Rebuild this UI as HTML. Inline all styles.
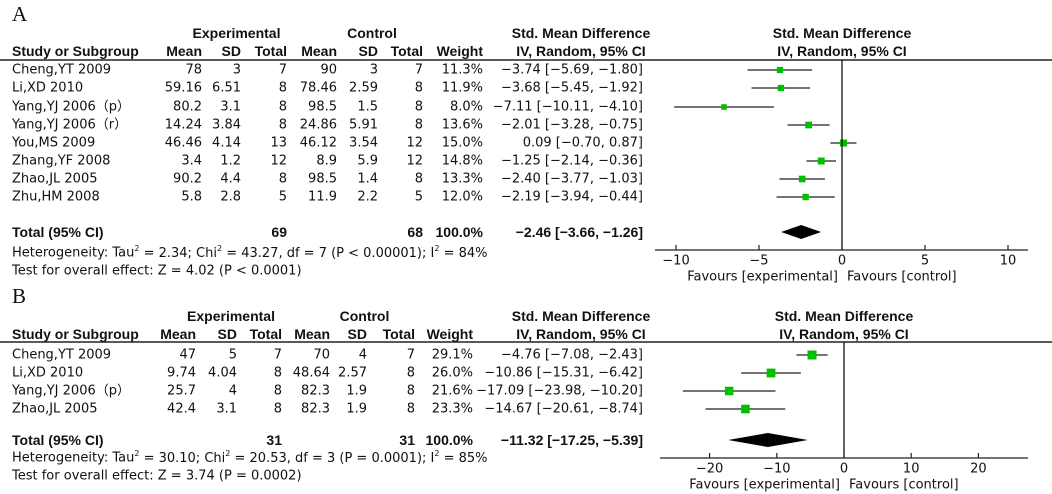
<!DOCTYPE html>
<html><head><meta charset="utf-8"><style>
body{margin:0;background:#fff;}
svg{display:block;font-family:"DejaVu Sans","Liberation Sans",sans-serif;font-size:13px;fill:#111}
.b{font-weight:bold;font-family:"Liberation Sans",sans-serif;font-size:14px}
</style></head><body>
<svg id="s" width="1052" height="494" xmlns="http://www.w3.org/2000/svg"></svg>
<script>
// Panel A data
const aStudies=["Cheng,YT 2009","Li,XD 2010","Yang,YJ 2006\uFF08p\uFF09","Yang,YJ 2006\uFF08r\uFF09","You,MS 2009","Zhang,YF 2008","Zhao,JL 2005","Zhu,HM 2008"];
const aExpMean=["78","59.16","80.2","14.24","46.46","3.4","90.2","5.8"];
const aExpSD=["3","6.51","3.1","3.84","4.14","1.2","4.4","2.8"];
const aExpN=["7","8","8","8","13","12","8","5"];
const aCtlMean=["90","78.46","98.5","24.86","46.12","8.9","98.5","11.9"];
const aCtlSD=["3","2.59","1.5","5.91","3.54","5.9","1.4","2.2"];
const aCtlN=["7","8","8","8","12","12","8","5"];
const aWeight=[11.3,11.9,8.0,13.6,15.0,14.8,13.3,12.0];
const aEst=[-3.74,-3.68,-7.11,-2.01,0.09,-1.25,-2.40,-2.19];
const aLo=[-5.69,-5.45,-10.11,-3.28,-0.70,-2.14,-3.77,-3.94];
const aHi=[-1.80,-1.92,-4.10,-0.75,0.87,-0.36,-1.03,-0.44];
const aTotal=[-2.46,-3.66,-1.26];
const aTicks=[-10,-5,0,5,10];
// Panel B data
const bStudies=["Cheng,YT 2009","Li,XD 2010","Yang,YJ 2006\uFF08p\uFF09","Zhao,JL 2005"];
const bExpMean=["47","9.74","25.7","42.4"];
const bExpSD=["5","4.04","4","3.1"];
const bExpN=["7","8","8","8"];
const bCtlMean=["70","48.64","82.3","82.3"];
const bCtlSD=["4","2.57","1.9","1.9"];
const bCtlN=["7","8","8","8"];
const bWeight=[29.1,26.0,21.6,23.3];
const bEst=[-4.76,-10.86,-17.09,-14.67];
const bLo=[-7.08,-15.31,-23.98,-20.61];
const bHi=[-2.43,-6.42,-10.20,-8.74];
const bTotal=[-11.32,-17.25,-5.39];
const bTicks=[-20,-10,0,10,20];

const S=document.getElementById('s');
const NS="http://www.w3.org/2000/svg";
function mk(tag,attrs,parent){const e=document.createElementNS(NS,tag);for(const k in attrs)e.setAttribute(k,attrs[k]);(parent||S).appendChild(e);return e;}
function txt(x,y,s,anchor,cls,name){const t=mk('text',{x:x,y:y,'text-anchor':anchor||'start','dominant-baseline':'central'});if(cls)t.setAttribute('class',cls);t.innerHTML=s;


return t;}
function fmt(v){return (v<0?'\u2212':'')+Math.abs(v).toFixed(2);}
function ci(e,l,h){return fmt(e)+' ['+fmt(l)+', '+fmt(h)+']';}

function panel(P){
  const g=mk('g',{});
  
  
  txt(12,P.labelY,P.label,'start',null,'panel-label').setAttribute('style','font-family:"Liberation Serif",serif;font-size:21px');
  const c=P.cols;
  txt((c[0]+c[2])/2-8,P.h1,'Experimental','middle','b','experimental-header');
  txt((c[3]+c[5])/2-8,P.h1,'Control','middle','b','control-header');
  txt(c[7]-62,P.h1,'Std. Mean Difference','middle','b','effect-header');
  txt(P.zero,P.h1,'Std. Mean Difference','middle','b','plot-header');
  txt(12,P.h2,'Study or Subgroup','start','b','study-header');
  const hd=['Mean','SD','Total','Mean','SD','Total','Weight'];
  hd.forEach((h,i)=>txt(c[i],P.h2,h,'end','b','column-header'));
  txt(c[7]-62,P.h2,'IV, Random, 95% CI','middle','b','effect-subheader');
  txt(P.zero,P.h2,'IV, Random, 95% CI','middle','b','plot-subheader');
  const hl=mk('line',{x1:0,x2:1052,y1:P.line,y2:P.line,stroke:'#222','stroke-width':1.5});
  
  
  const X=v=>P.zero+v*P.scale;
  const maxW=Math.max(...P.w);
  P.studies.forEach((s,i)=>{
    const y=P.rowY[i];
    txt(12,y,s,'start',null,'study-name');
    [P.em,P.es,P.en,P.cm,P.cs,P.cn].forEach((arr,j)=>txt(c[j],y,arr[i],'end',null,'cell'));
    txt(c[6],y,P.w[i].toFixed(1)+'%','end',null,'weight-cell');
    txt(c[7],y,ci(P.est[i],P.lo[i],P.hi[i]),'end',null,'ci-cell');
    const l=mk('line',{x1:X(P.lo[i]),x2:X(P.hi[i]),y1:y,y2:y,stroke:'#222','stroke-width':1.2});
    
    
    const sz=P.sqMin+(P.sqMax-P.sqMin)*(P.w[i]/maxW);
    const r=mk('rect',{x:X(P.est[i])-sz/2,y:y-sz/2,width:sz,height:sz,fill:'#00bf00'});
    
    
  });
  const ty=P.totY;
  txt(12,ty,'Total (95% CI)','start','b','total-label');
  txt(c[2],ty,P.tn[0],'end','b','total-exp');
  txt(c[5],ty,P.tn[1],'end','b','total-ctl');
  txt(c[6],ty,'100.0%','end','b','total-weight');
  txt(c[7],ty,ci(P.tot[0],P.tot[1],P.tot[2]),'end','b','total-ci');
  const d=mk('polygon',{points:`${X(P.tot[1])},${ty} ${X(P.tot[0])},${ty-7} ${X(P.tot[2])},${ty} ${X(P.tot[0])},${ty+7}`,fill:'#000'});
  
  
  txt(12,P.hetY,P.het,'start',null,'heterogeneity-text');
  txt(12,P.hetY+18,P.test,'start',null,'overall-effect-text');
  const zl=mk('line',{x1:X(0),x2:X(0),y1:P.line,y2:P.axisY,stroke:'#111','stroke-width':1.3});
  
  
  const ax=mk('line',{x1:P.axL,x2:P.axR,y1:P.axisY,y2:P.axisY,stroke:'#222','stroke-width':1.3});
  
  
  P.ticks.forEach(t=>{
    const tk=mk('line',{x1:X(t),x2:X(t),y1:P.axisY-5,y2:P.axisY,stroke:'#222','stroke-width':1.2});
    
    
    txt(X(t),P.axisY+11,(t<0?'\u2212':'')+Math.abs(t),'middle',null,'x-tick-label');
  });
  txt(X(0)-4,P.axisY+27,'Favours [experimental]','end',null,'favours-experimental');
  txt(X(0)+5,P.axisY+27,'Favours [control]','start',null,'favours-control');
}
panel({name:'panel-a',label:'A',labelY:14,h1:33,h2:51,line:60,cols:[202,241,287,337,378,423,483,643],
 studies:aStudies,em:aExpMean,es:aExpSD,en:aExpN,cm:aCtlMean,cs:aCtlSD,cn:aCtlN,w:aWeight,est:aEst,lo:aLo,hi:aHi,
 rowY:[70,88,107,125,143,161,179,197],totY:232,tn:['69','68'],tot:aTotal,
 het:'Heterogeneity: Tau<tspan dy="-5" font-size="8">2</tspan><tspan dy="5"> = 2.34; Chi</tspan><tspan dy="-5" font-size="8">2</tspan><tspan dy="5"> = 43.27, df = 7 (P &lt; 0.00001); I</tspan><tspan dy="-5" font-size="8">2</tspan><tspan dy="5"> = 84%</tspan>',
 test:'Test for overall effect: Z = 4.02 (P &lt; 0.0001)',hetY:253,
 zero:842,scale:16.6,axisY:250,axL:655,axR:1028,ticks:aTicks,sqMin:4,sqMax:7});
panel({name:'panel-b',label:'B',labelY:296,h1:316,h2:334,line:342,cols:[196,237,282,330,367,415,473,643],
 studies:bStudies,em:bExpMean,es:bExpSD,en:bExpN,cm:bCtlMean,cs:bCtlSD,cn:bCtlN,w:bWeight,est:bEst,lo:bLo,hi:bHi,
 rowY:[355,373,391,409],totY:440,tn:['31','31'],tot:bTotal,
 het:'Heterogeneity: Tau<tspan dy="-5" font-size="8">2</tspan><tspan dy="5"> = 30.10; Chi</tspan><tspan dy="-5" font-size="8">2</tspan><tspan dy="5"> = 20.53, df = 3 (P = 0.0001); I</tspan><tspan dy="-5" font-size="8">2</tspan><tspan dy="5"> = 85%</tspan>',
 test:'Test for overall effect: Z = 3.74 (P = 0.0002)',hetY:458,
 zero:844,scale:6.72,axisY:458,axL:660,axR:1028,ticks:bTicks,sqMin:7,sqMax:9});
</script>
</body></html>
